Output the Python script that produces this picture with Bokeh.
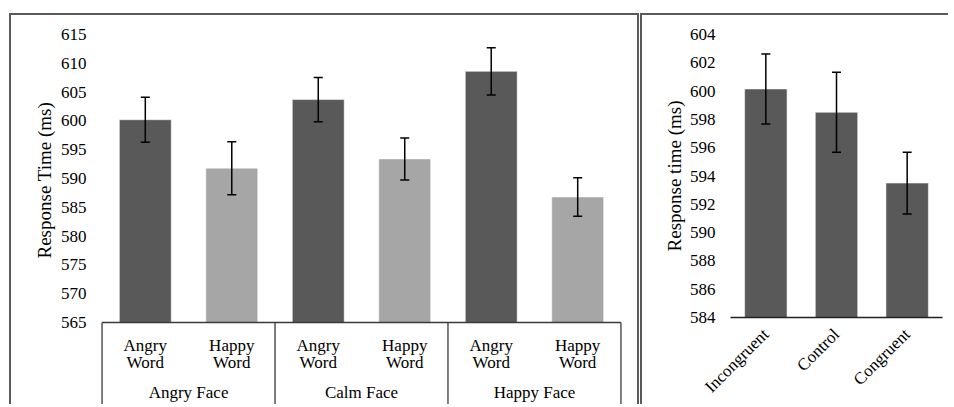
import math
from bokeh.plotting import figure
from bokeh.models import (FactorRange, ColumnDataSource, Whisker, TeeHead,
                          FixedTicker, Title)
from bokeh.layouts import row
from bokeh.embed import file_html
from bokeh.resources import INLINE
from bokeh.core.properties import value

# ---------------- data ----------------
groups = ["Angry Face", "Calm Face", "Happy Face"]
words = ["Angry Word", "Happy Word"]
left_means = [600.2, 591.8, 603.7, 593.4, 608.6, 586.8]
left_errs = [3.9, 4.6, 3.85, 3.65, 4.1, 3.35]
left_ticks = [565, 570, 575, 580, 585, 590, 595, 600, 605, 610, 615]
left_ylabel = "Response Time (ms)"

conditions = ["Incongruent", "Control", "Congruent"]
right_means = [600.15, 598.5, 593.5]
right_errs = [2.48, 2.83, 2.18]
right_ticks = [584, 586, 588, 590, 592, 594, 596, 598, 600, 602, 604]
right_ylabel = "Response time (ms)"

DARK = "#595959"
LIGHT = "#a6a6a6"
FONT = "Liberation Serif"
LINE = "#3a3a3a"
BORDER = "2px solid #5a5a5a"


def style_common(p):
    p.grid.visible = False
    p.outline_line_color = None
    p.background_fill_color = "white"
    p.border_fill_color = "white"
    ax = p.yaxis[0]
    ax.axis_line_color = None
    ax.major_tick_line_color = None
    ax.minor_tick_line_color = None
    ax.major_tick_out = 0
    ax.major_tick_in = 0
    ax.major_label_text_font = FONT
    ax.major_label_text_font_size = "17px"
    ax.major_label_text_color = "black"


def add_whiskers(p, src):
    p.add_layout(Whisker(source=src, base="x", upper="upper", lower="lower",
                         level="overlay", line_color="black", line_width=1.5,
                         upper_head=TeeHead(size=9, line_color="black", line_width=1.5),
                         lower_head=TeeHead(size=9, line_color="black", line_width=1.5)))


# ---------------- left panel ----------------
factors = [(g, w) for g in groups for w in words]
L_W, L_H = 630, 391
L_left, L_right, L_top = 89, 19, 19
axis_px = 322 - 15          # axis line position inside canvas (canvas top at y=15)
frame_h = L_H - L_top
px_per_unit = (axis_px - L_top) / (left_ticks[-1] - left_ticks[0])
y_start = left_ticks[-1] - frame_h / px_per_unit

p1 = figure(width=L_W, height=L_H, output_backend="svg", toolbar_location=None,
            x_range=FactorRange(*factors, group_padding=0, subgroup_padding=0,
                                factor_padding=0, range_padding=0.006),
            y_range=(y_start, left_ticks[-1]), x_axis_location=None,
            min_border_left=L_left, min_border_right=L_right,
            min_border_top=L_top, min_border_bottom=0,
            frame_align=False, margin=(13, 0, 0, 9),
            styles={"border": BORDER, "border-bottom": "none"})
style_common(p1)
p1.yaxis[0].ticker = FixedTicker(ticks=left_ticks)
p1.yaxis[0].major_label_standoff = 14

src1 = ColumnDataSource(dict(
    x=factors, top=left_means,
    upper=[m + e for m, e in zip(left_means, left_errs)],
    lower=[m - e for m, e in zip(left_means, left_errs)],
    color=[DARK if w == words[0] else LIGHT for g, w in factors],
))
p1.vbar(x="x", top="top", bottom=left_ticks[0], width=0.6, source=src1,
        fill_color="color", line_color="white", line_alpha=0.5, line_width=1)
add_whiskers(p1, src1)

# category box: axis line and separators
n_total = len(factors)
p1.segment(x0=[0], y0=[left_ticks[0]], x1=[n_total], y1=[left_ticks[0]],
           line_color=LINE, line_width=1.3)
bounds = [0]
for g in groups:
    bounds.append(bounds[-1] + len(words))
p1.segment(x0=bounds, y0=[left_ticks[0]] * len(bounds), x1=bounds,
           y1=[y_start] * len(bounds), line_color=LINE, line_width=1.3)

sub_src = ColumnDataSource(dict(x=factors, y=[left_ticks[0]] * n_total,
                                text=[w.replace(" ", "\n") for g, w in factors]))
p1.text(x="x", y="y", text="text", source=sub_src, text_align="center",
        text_baseline="top", y_offset=13, text_font=value(FONT),
        text_font_size="17px", text_line_height=0.92, text_color="black")
grp_src = ColumnDataSource(dict(x=groups, y=[left_ticks[0]] * len(groups), text=groups))
p1.text(x="x", y="y", text="text", source=grp_src, text_align="center",
        text_baseline="alphabetic", y_offset=70, text_font=value(FONT),
        text_font_size="17px", text_color="black")

p1.add_layout(Title(text=left_ylabel, align="left", offset=148, standoff=6,
                    text_font=FONT, text_font_size="19px", text_font_style="normal",
                    text_color="black"), "left")

# ---------------- right panel ----------------
R_W, R_H = 308, 391
p2 = figure(width=R_W, height=R_H, output_backend="svg", toolbar_location=None,
            x_range=FactorRange(*conditions, range_padding=0),
            y_range=(right_ticks[0], right_ticks[-1]),
            min_border_left=88, min_border_right=8,
            min_border_top=19, min_border_bottom=89,
            frame_align=False, margin=(13, 0, 0, 1),
            styles={"border": BORDER, "border-bottom": "none", "border-right": "none"})
style_common(p2)
p2.yaxis[0].ticker = FixedTicker(ticks=right_ticks)
p2.yaxis[0].major_label_standoff = 15
xa = p2.xaxis[0]
xa.axis_line_color = "#222222"
xa.axis_line_width = 1.5
xa.major_tick_line_color = None
xa.minor_tick_line_color = None
xa.major_tick_out = 0
xa.major_tick_in = 0
xa.major_label_orientation = math.pi / 4
xa.major_label_standoff = 14
xa.major_label_text_font = FONT
xa.major_label_text_font_size = "17px"
xa.major_label_text_color = "black"

src2 = ColumnDataSource(dict(
    x=conditions, top=right_means,
    upper=[m + e for m, e in zip(right_means, right_errs)],
    lower=[m - e for m, e in zip(right_means, right_errs)],
))
p2.vbar(x="x", top="top", bottom=right_ticks[0], width=0.6, source=src2,
        fill_color=DARK, line_color="white", line_alpha=0.5, line_width=1)
add_whiskers(p2, src2)
p2.add_layout(Title(text=right_ylabel, align="center", offset=2, standoff=3,
                    text_font=FONT, text_font_size="19px", text_font_style="normal",
                    text_color="black"), "left")

layout = row(p1, p2, spacing=0)
open("out.html", "w").write(file_html(layout, INLINE))
